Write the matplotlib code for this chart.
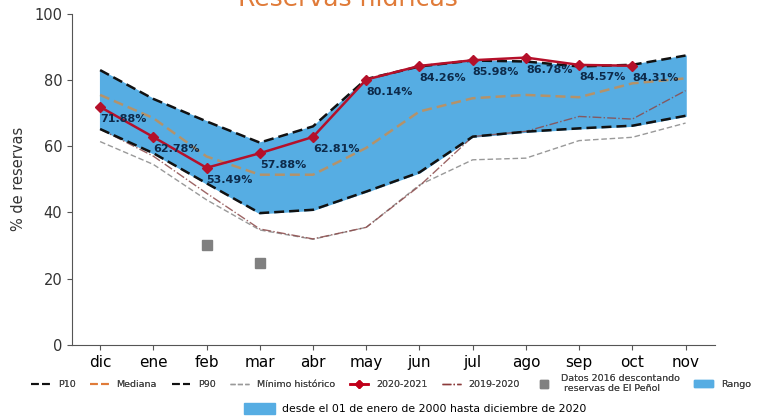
import numpy as np
import matplotlib.pyplot as plt
from matplotlib.patches import Patch
from matplotlib.lines import Line2D

meses = ['dic', 'ene', 'feb', 'mar', 'abr', 'may', 'jun', 'jul', 'ago', 'sep', 'oct', 'nov']

p10 = [65.2, 57.9, 48.8, 39.8, 40.8, 46.3, 52.1, 62.9, 64.4, 65.4, 66.2, 69.2]
p90 = [83.0, 74.3, 67.5, 61.1, 66.0, 80.3, 84.1, 85.9, 85.6, 84.1, 84.6, 87.4]
mediana = [75.5, 68.5, 56.9, 51.4, 51.4, 59.5, 70.5, 74.5, 75.5, 74.8, 79.0, 80.5]
minimo = [61.4, 54.5, 43.8, 34.7, 31.9, 35.5, 48.3, 55.9, 56.4, 61.7, 62.7, 67.0]
r2019 = [65.2, 57.0, 45.8, 35.0, 32.0, 35.5, 48.0, 62.9, 64.5, 69.0, 68.2, 76.8]
r2020 = [71.88, 62.78, 53.49, 57.88, 62.81, 80.14, 84.26, 85.98, 86.78, 84.57, 84.31]
datos2016_mes = ['feb', 'mar']
datos2016 = [30.2, 24.8]

x = np.arange(len(meses))
x16 = [meses.index(m) for m in datos2016_mes]

fig = plt.figure(figsize=(7.57, 4.19), dpi=100)
ax = fig.add_axes([0.095, 0.177, 0.85, 0.79])

ax.fill_between(x, p10, p90, color='#56ade3', zorder=1)
ax.plot(x, p10, ls='--', color='#111', lw=1.8, dashes=(4, 2), zorder=3)
ax.plot(x, p90, ls='--', color='#111', lw=1.8, dashes=(4, 2), zorder=3)
ax.plot(x, mediana, ls='--', color='#c48e55', lw=1.8, dashes=(4, 2), alpha=0.85, zorder=2)
ax.plot(x, minimo, ls='--', color='#999999', lw=1.0, dashes=(4, 2), zorder=2)
ax.plot(x, r2019, ls='-.', color='#8c4a4a', lw=1.0, alpha=0.85, zorder=2)
ax.plot(x[:len(r2020)], r2020, color='#b5102a', lw=1.8, marker='D', ms=5, zorder=4)
ax.plot(x16, datos2016, 's', color='#808080', ms=7, zorder=4)

for xi, v in zip(x, r2020):
    ax.annotate(f'{v:.2f}%', (xi, v), xytext=(0, -5), textcoords='offset points',
                ha='left', va='top', fontsize=8, fontweight='bold', color='#0d2a4a', zorder=5)

ax.set_ylim(0, 100)
ax.set_xlim(-0.53, 11.56)
ax.set_xticks(x)
ax.set_xticklabels(meses, fontsize=11)
ax.set_yticks([0, 20, 40, 60, 80, 100])
ax.tick_params(axis='y', labelsize=10.5, labelcolor='#333', color='#555')
ax.tick_params(axis='x', color='#555')
ax.set_ylabel('% de reservas', fontsize=10.5, color='#333', labelpad=6)
for s in ['top', 'right']:
    ax.spines[s].set_visible(False)
for s in ['left', 'bottom']:
    ax.spines[s].set_color('#555')

# titulo recortado arriba (como en la captura)
fig.text(0.46, 0.985, 'Reservas hídricas', color='#e07b39', fontsize=18,
         ha='center', va='baseline')

handles = [
    Line2D([], [], ls='--', color='#111', lw=1.5),
    Line2D([], [], ls='--', color='#e07b39', lw=1.5),
    Line2D([], [], ls='--', color='#111', lw=1.5),
    Line2D([], [], ls='--', color='#999999', lw=1.0),
    Line2D([], [], color='#c0001a', lw=1.8, marker='D', ms=4),
    Line2D([], [], ls='-.', color='#8c3b3b', lw=1.0),
    Line2D([], [], ls='', marker='s', color='#808080', ms=6),
    Patch(color='#56ade3'),
]
labels = ['P10', 'Mediana', 'P90', 'Mínimo histórico', '2020-2021', '2019-2020',
          'Datos 2016 descontando\n reservas de El Peñol', 'Rango']
leg = fig.legend(handles, labels, loc='center left', bbox_to_anchor=(0.03, 0.085),
                 ncol=8, frameon=False, fontsize=6.8, handlelength=2.0,
                 columnspacing=1.55, handletextpad=0.8)
for t in leg.get_texts():
    t.set_color('#444')
fig.add_artist(leg)

leg2 = fig.legend([Patch(color='#56ade3')], ['desde el 01 de enero de 2000 hasta diciembre de 2020'],
                  loc='center left', bbox_to_anchor=(0.31, 0.025), frameon=False,
                  fontsize=7.8, handlelength=2.8, handleheight=1.2, handletextpad=0.7)

fig.savefig('out.png', dpi=100)
